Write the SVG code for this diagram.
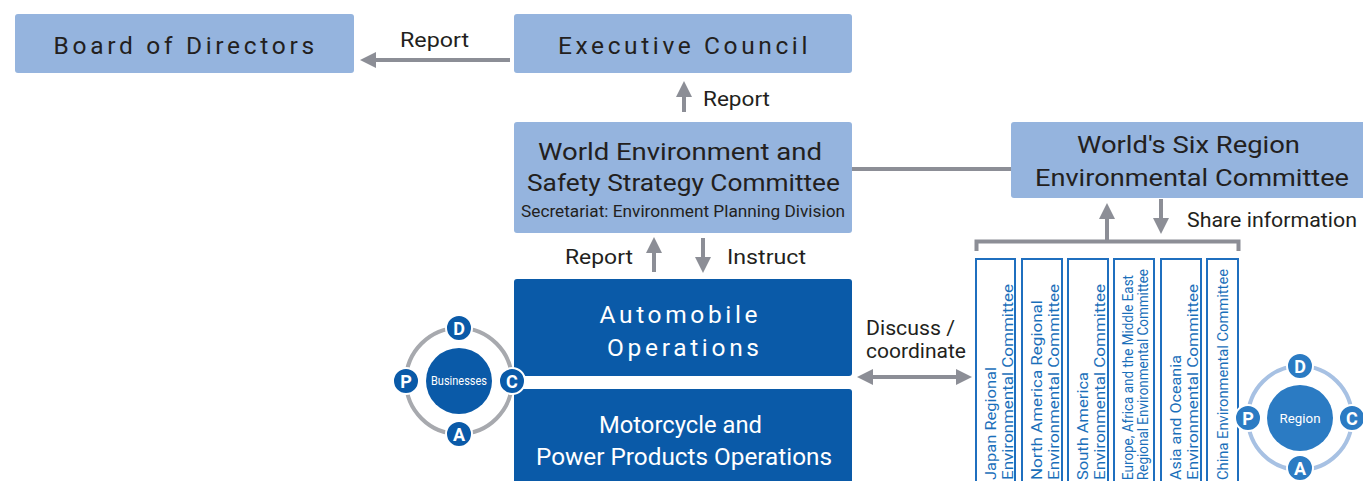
<svg xmlns="http://www.w3.org/2000/svg" width="1363" height="481" viewBox="0 0 1363 481">
<style>
.lb{fill:#95b4de}
.db{fill:#0a5aa8}
.t{font-family:Roboto,"Noto Sans",sans-serif;fill:#231f20}
.tw{font-family:Roboto,"Noto Sans",sans-serif;fill:#ffffff}
.lab{font-family:Roboto,"Noto Sans",sans-serif;fill:#231f20;font-size:19.5px}
.ln{stroke:#8c8e96;stroke-width:4;fill:none}
.hd{fill:#8c8e96}
.col{fill:#ffffff;stroke:#1f6fbf;stroke-width:2}
.ct{font-family:Roboto,"Noto Sans",sans-serif;fill:#1a6fba;font-size:15.5px}
.ct2{font-family:Roboto,"Noto Sans",sans-serif;fill:#1a6fba;font-size:14px}
.pd{fill:#0a5aa8;stroke:#ffffff;stroke-width:2}
.pr{fill:#2b7bc3;stroke:#ffffff;stroke-width:2}
.pl{font-family:Roboto,"Noto Sans",sans-serif;font-weight:bold;fill:#ffffff;font-size:18px;text-anchor:middle}
</style>

<g id="connectors">
  <line class="ln" x1="510" y1="60" x2="373" y2="60"/>
  <polygon class="hd" points="360,60 376,52 376,68"/>
  <line class="ln" x1="684" y1="112" x2="684" y2="94"/>
  <polygon class="hd" points="684,81 676,97 692,97"/>
  <line class="ln" x1="654" y1="272" x2="654" y2="250"/>
  <polygon class="hd" points="654,237 646,253 662,253"/>
  <line class="ln" x1="703" y1="238" x2="703" y2="260"/>
  <polygon class="hd" points="703,273 695,257 711,257"/>
  <line class="ln" x1="852" y1="169" x2="1012" y2="169" stroke-width="3"/>
  <polyline class="ln" stroke-width="3" points="976.5,251 976.5,241.5 1238.5,241.5 1238.5,251"/>
  <line class="ln" x1="1107" y1="241" x2="1107" y2="216"/>
  <polygon class="hd" points="1107,203 1099,219 1115,219"/>
  <line class="ln" x1="1161" y1="199" x2="1161" y2="221"/>
  <polygon class="hd" points="1161,234 1153,218 1169,218"/>
  <line class="ln" x1="870" y1="377" x2="959" y2="377"/>
  <polygon class="hd" points="857,377 873,369 873,385"/>
  <polygon class="hd" points="972,377 956,369 956,385"/>
</g>

<g id="board">
  <rect class="lb" x="15" y="14" width="339" height="59" rx="3"/>
  <text class="t" x="185" y="54" font-size="24.5" text-anchor="middle" letter-spacing="2.4" textLength="263">Board of Directors</text>
</g>
<g id="exec">
  <rect class="lb" x="514" y="14" width="338" height="59" rx="3"/>
  <text class="t" x="684" y="54" font-size="24.5" text-anchor="middle" letter-spacing="2.6" textLength="252">Executive Council</text>
</g>
<g id="labels">
  <text class="lab" x="400" y="47" textLength="69" lengthAdjust="spacingAndGlyphs">Report</text>
  <text class="lab" x="703" y="106" textLength="67" lengthAdjust="spacingAndGlyphs">Report</text>
  <text class="lab" x="633" y="264" text-anchor="end" textLength="68" lengthAdjust="spacingAndGlyphs">Report</text>
  <text class="lab" x="727" y="264" textLength="79" lengthAdjust="spacingAndGlyphs">Instruct</text>
  <text class="lab" x="1187" y="227" textLength="170" lengthAdjust="spacingAndGlyphs">Share information</text>
  <text class="lab" x="866" y="335" textLength="89" lengthAdjust="spacingAndGlyphs">Discuss /</text>
  <text class="lab" x="866" y="358" textLength="100" lengthAdjust="spacingAndGlyphs">coordinate</text>
</g>
<g id="wesc">
  <rect class="lb" x="514" y="122" width="338" height="111" rx="3"/>
  <text class="t" x="680" y="160" font-size="24.5" text-anchor="middle" textLength="284" lengthAdjust="spacingAndGlyphs">World Environment and</text>
  <text class="t" x="683.5" y="191" font-size="24.5" text-anchor="middle" textLength="313" lengthAdjust="spacingAndGlyphs">Safety Strategy Committee</text>
  <text class="t" x="683" y="217" font-size="16.5" text-anchor="middle" textLength="324" lengthAdjust="spacingAndGlyphs">Secretariat: Environment Planning Division</text>
</g>
<g id="sixregion">
  <rect class="lb" x="1011" y="122" width="356" height="76" rx="3"/>
  <text class="t" x="1188.5" y="153" font-size="24.5" text-anchor="middle" textLength="223" lengthAdjust="spacingAndGlyphs">World's Six Region</text>
  <text class="t" x="1192" y="186" font-size="24.5" text-anchor="middle" textLength="314" lengthAdjust="spacingAndGlyphs">Environmental Committee</text>
</g>
<g id="auto">
  <rect class="db" x="514" y="279" width="338" height="97" rx="3"/>
  <text class="tw" x="680" y="323" font-size="24.5" text-anchor="middle" letter-spacing="3" textLength="161">Automobile</text>
  <text class="tw" x="684.5" y="356" font-size="24.5" text-anchor="middle" letter-spacing="3" textLength="155">Operations</text>
</g>
<g id="moto">
  <rect class="db" x="514" y="389" width="338" height="100" rx="3"/>
  <text class="tw" x="680.5" y="433" font-size="24.5" text-anchor="middle" textLength="163" lengthAdjust="spacingAndGlyphs">Motorcycle and</text>
  <text class="tw" x="684" y="465" font-size="24.5" text-anchor="middle" textLength="296" lengthAdjust="spacingAndGlyphs">Power Products Operations</text>
</g>

<g id="col-japan">
  <rect class="col" x="976" y="259" width="39" height="230"/>
  <text class="ct" transform="translate(996,480) rotate(-90)" textLength="113" lengthAdjust="spacingAndGlyphs">Japan Regional</text>
  <text class="ct" transform="translate(1013,480) rotate(-90)" textLength="196" lengthAdjust="spacingAndGlyphs">Environmental Committee</text>
</g>
<g id="col-northamerica">
  <rect class="col" x="1022" y="259" width="40" height="230"/>
  <text class="ct" transform="translate(1042,480) rotate(-90)" textLength="180" lengthAdjust="spacingAndGlyphs">North America Regional</text>
  <text class="ct" transform="translate(1059,480) rotate(-90)" textLength="196" lengthAdjust="spacingAndGlyphs">Environmental Committee</text>
</g>
<g id="col-southamerica">
  <rect class="col" x="1068" y="259" width="40" height="230"/>
  <text class="ct" transform="translate(1088,480) rotate(-90)" textLength="108" lengthAdjust="spacingAndGlyphs">South America</text>
  <text class="ct" transform="translate(1105,480) rotate(-90)" textLength="196" lengthAdjust="spacingAndGlyphs">Environmental Committee</text>
</g>
<g id="col-europe">
  <rect class="col" x="1114" y="259" width="40" height="230"/>
  <text class="ct2" transform="translate(1133,480) rotate(-90)" textLength="205" lengthAdjust="spacingAndGlyphs">Europe, Africa and the Middle East</text>
  <text class="ct2" transform="translate(1148,480) rotate(-90)" textLength="211" lengthAdjust="spacingAndGlyphs">Regional Environmental Committee</text>
</g>
<g id="col-asia">
  <rect class="col" x="1161" y="259" width="40" height="230"/>
  <text class="ct" transform="translate(1181,480) rotate(-90)" textLength="125" lengthAdjust="spacingAndGlyphs">Asia and Oceania</text>
  <text class="ct" transform="translate(1198,480) rotate(-90)" textLength="196" lengthAdjust="spacingAndGlyphs">Environmental Committee</text>
</g>
<g id="col-china">
  <rect class="col" x="1207" y="259" width="31" height="230"/>
  <text class="ct" transform="translate(1228,480) rotate(-90)" textLength="211" lengthAdjust="spacingAndGlyphs">China Environmental Committee</text>
</g>

<g id="pdca-businesses">
  <circle cx="459" cy="381" r="53" fill="none" stroke="#a7a9ae" stroke-width="4"/>
  <circle cx="459" cy="381" r="33" fill="#0a5aa8"/>
  <text class="tw" x="459" y="385" font-size="12" text-anchor="middle" textLength="56" lengthAdjust="spacingAndGlyphs">Businesses</text>
  <circle class="pd" cx="459" cy="328" r="13"/>
  <text class="pl" x="459" y="334.5">D</text>
  <circle class="pd" cx="406" cy="381" r="13"/>
  <text class="pl" x="406" y="387.5">P</text>
  <circle class="pd" cx="512" cy="381" r="13"/>
  <text class="pl" x="512" y="387.5">C</text>
  <circle class="pd" cx="459" cy="434" r="13"/>
  <text class="pl" x="459" y="440.5">A</text>
</g>

<g id="pdca-region">
  <circle cx="1300" cy="418" r="52" fill="none" stroke="#a7c1e3" stroke-width="4"/>
  <circle cx="1300" cy="418" r="33" fill="#2b7bc3"/>
  <text class="tw" x="1300" y="423" font-size="13" text-anchor="middle" textLength="41" lengthAdjust="spacingAndGlyphs">Region</text>
  <circle class="pr" cx="1300" cy="366" r="13"/>
  <text class="pl" x="1300" y="372.5">D</text>
  <circle class="pr" cx="1248" cy="418" r="13"/>
  <text class="pl" x="1248" y="424.5">P</text>
  <circle class="pr" cx="1352" cy="418" r="13"/>
  <text class="pl" x="1352" y="424.5">C</text>
  <circle class="pr" cx="1300" cy="468" r="13"/>
  <text class="pl" x="1300" y="474.5">A</text>
</g>
</svg>
